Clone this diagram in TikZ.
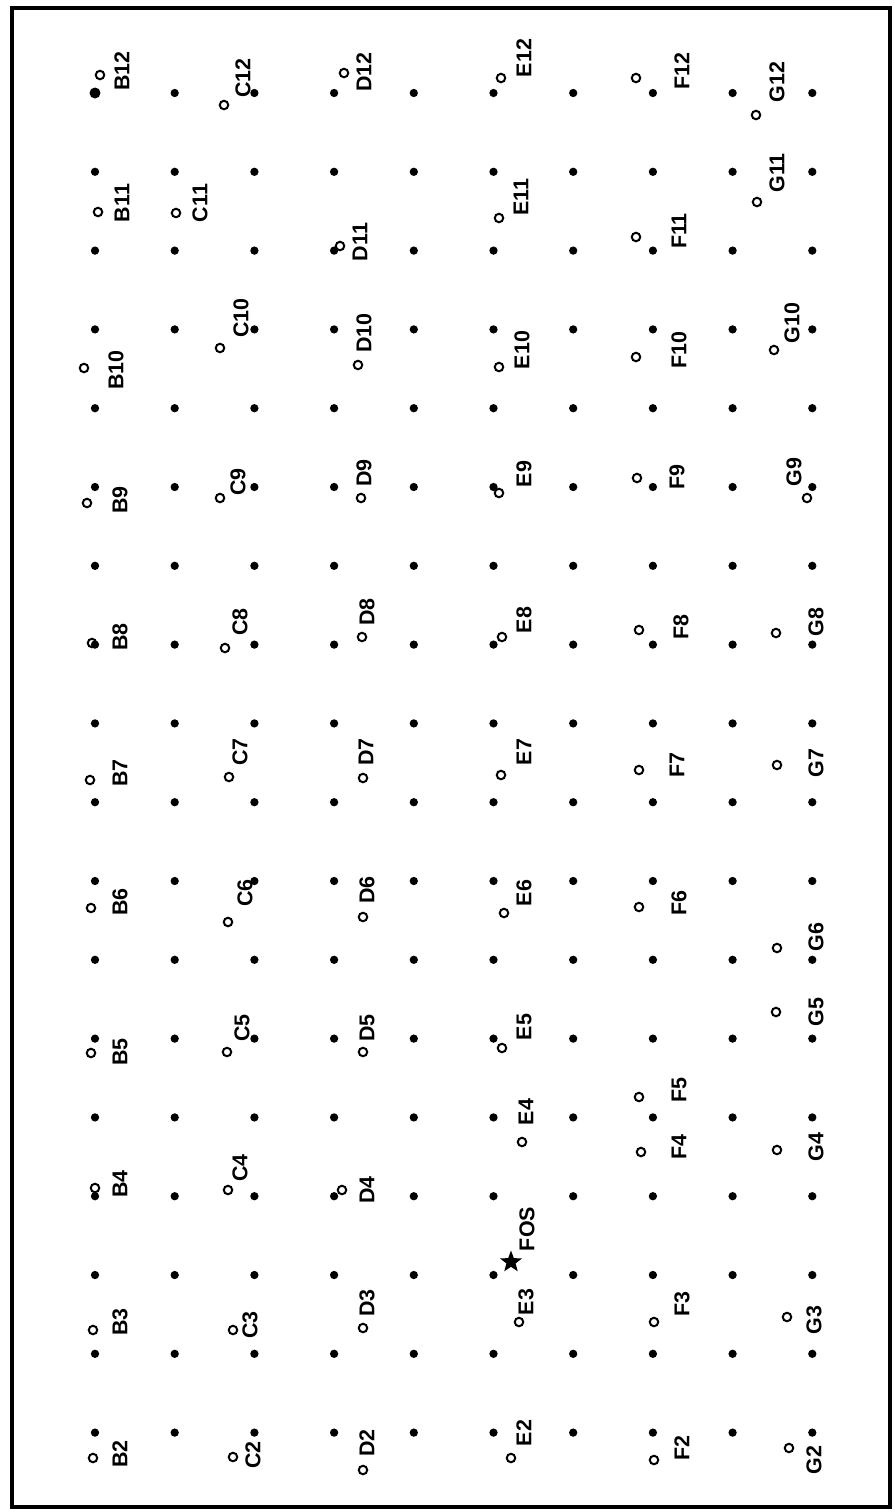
\documentclass[tikz,border=0pt]{standalone}
\usepackage{fontspec}
\setmainfont{Liberation Sans}
\usepackage{tikz}
\usetikzlibrary{shapes.geometric}
\tikzset{
  griddot/.style={fill=black},
  station/.style={
    draw=black,
    circle,
    line width=0.04cm,
    minimum size=0.17cm,
    inner sep=0pt
  },
  stationlabel/.style={
    rotate=90,
    inner sep=0pt,
    font=\fontsize{12.2}{12.2}\selectfont\bfseries
  },
  fosmark/.style={
    star,
    star points=5,
    star point ratio=2.4,
    fill=black,
    inner sep=0pt,
    minimum size=0.46cm
  }
}

\begin{document}
\begin{tikzpicture}[x=0.02cm,y=-0.02cm]
  \useasboundingbox (0,0) rectangle (894,1512);
  \fill[white] (0,0) rectangle (894,1512);

  % Frame
  \draw[line width=0.08cm] (12,8) rectangle (890,1507);

  % Grid of points
  \foreach \col in {0,...,9} {
    \foreach \row in {0,...,17} {
      \fill[griddot] (95+79.7*\col,93+78.8*\row) circle[radius=0.083cm];
    }
  }
  \fill[griddot] (95,93) circle[radius=0.11cm];

  % Stations B to G, rows 2 to 12
  \foreach \stn/\cx/\cy/\lx/\ly in {
    B12/100/75/122/71, B11/98/212/122/203, B10/84/368/116/370,
    B9/87/503/120/500, B8/92/643/120/637, B7/90/780/120/773,
    B6/91/908/120/902, B5/91/1053/120/1052, B4/95/1188/120/1184,
    B3/93/1330/120/1322, B2/93/1458/120/1454,
    C12/224/105/243/78, C11/176/213/200/203, C10/220/348/241/318,
    C9/220/498/238/482, C8/225/648/240/622, C7/229/777/240/752,
    C6/228/922/245/893, C5/227/1052/242/1028, C4/228/1190/240/1168,
    C3/233/1330/250/1325, C2/233/1457/253/1455,
    D12/344/73/364/72, D11/340/246/360/242, D10/358/365/364/333,
    D9/361/498/364/473, D8/362/637/367/612, D7/363/778/366/752,
    D6/363/917/367/890, D5/363/1052/367/1028, D4/342/1190/367/1190,
    D3/363/1328/367/1303, D2/363/1470/367/1443,
    E12/501/78/524/58, E11/499/218/521/197, E10/499/367/522/350,
    E9/499/493/524/474, E8/502/637/524/620, E7/501/775/524/752,
    E6/504/913/524/893, E5/502/1048/524/1027, E4/522/1142/526/1112,
    E3/519/1322/526/1302, E2/511/1458/524/1433,
    F12/636/78/682/71, F11/636/237/679/231, F10/636/357/679/350,
    F9/637/478/677/477, F8/639/630/681/627, F7/639/770/677/765,
    F6/639/907/679/903, F5/639/1097/679/1090, F4/641/1152/679/1147,
    F3/654/1322/682/1304, F2/654/1460/682/1448,
    G12/756/115/777/82, G11/757/202/777/173, G10/774/350/792/323,
    G9/807/498/794/472, G8/776/633/816/622, G7/777/765/816/763,
    G6/777/948/816/937, G5/776/1012/816/1012, G4/777/1150/816/1147,
    G3/787/1317/814/1320, G2/789/1448/814/1460
  } {
    \node[station] (c\stn) at (\cx,\cy) {};
    \node[stationlabel] (l\stn) at (\lx,\ly) {\stn};
  }

  % FOS
  \node[fosmark] (fos) at (511,1262) {};
  \node[stationlabel] (fostext) at (527,1229) {FOS};
\end{tikzpicture}
\end{document}
